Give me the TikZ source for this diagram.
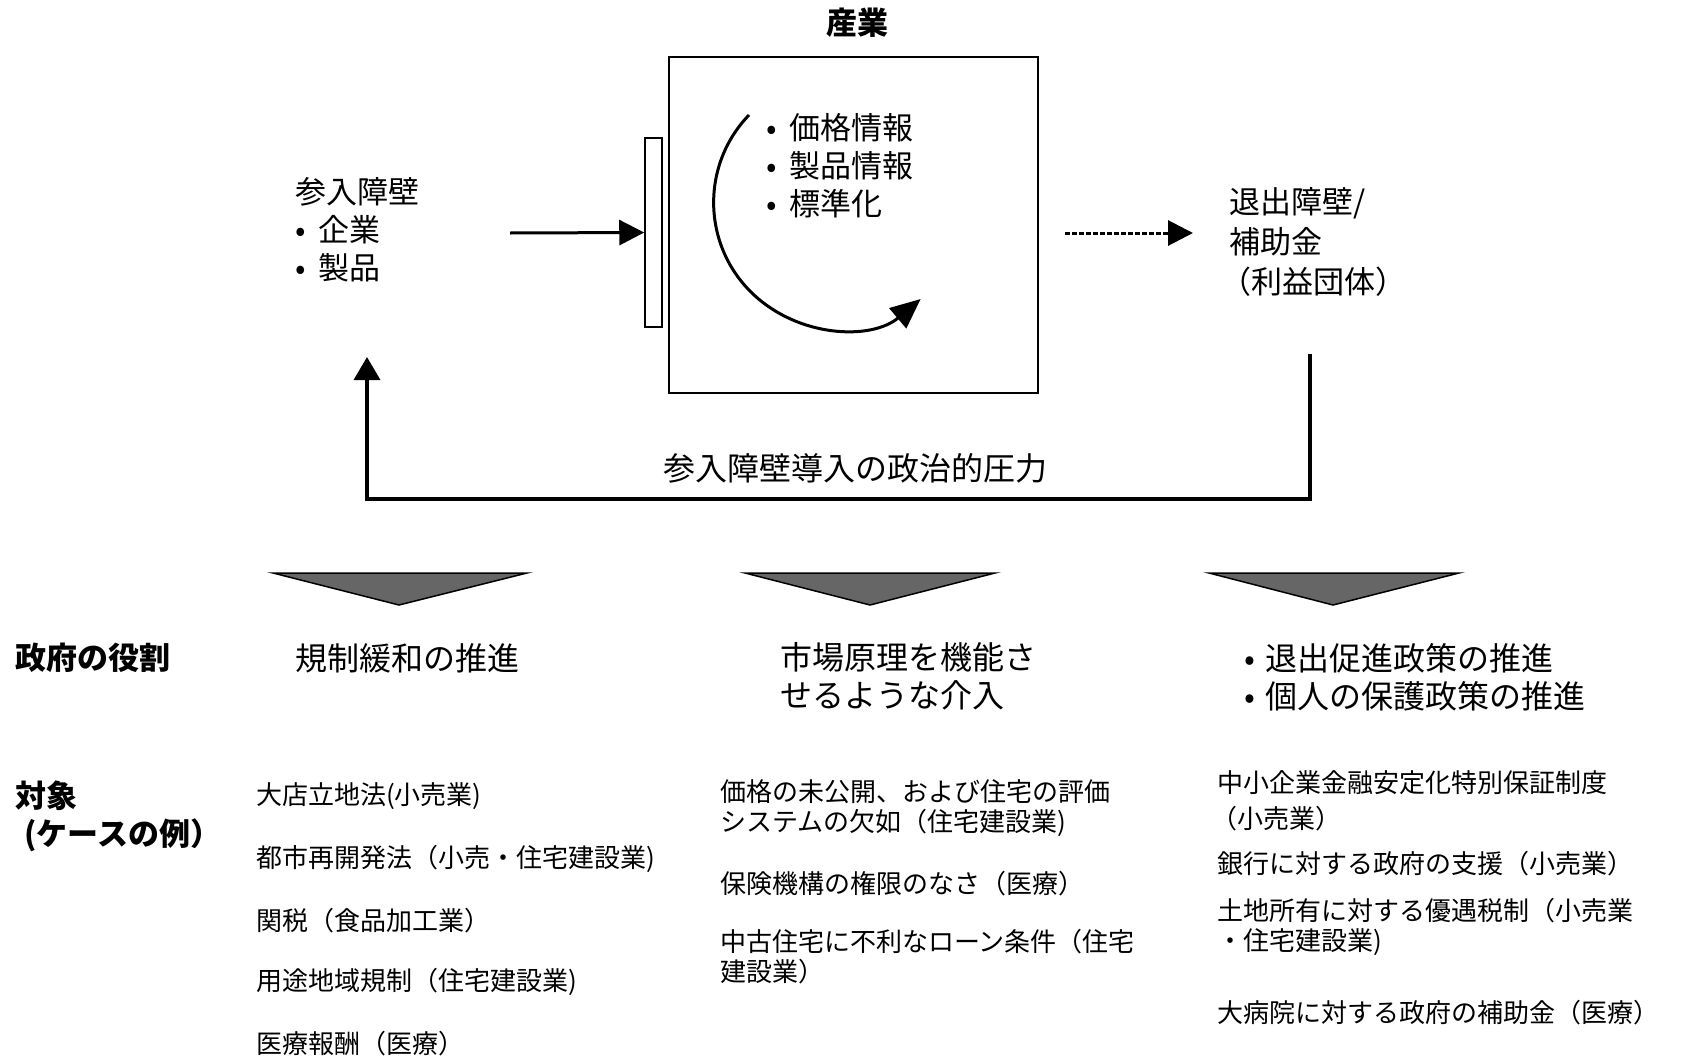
\documentclass[tikz,border=0pt]{standalone}
\usepackage{fontspec}
\setmainfont{Noto Sans CJK JP}
\usetikzlibrary{arrows.meta}

\newcommand{\dotitem}[1]{\makebox[#1][l]{•}}

\tikzset{
  body/.style={anchor=west, inner sep=0pt, align=left, font=\fontsize{31}{38}\selectfont},
  head/.style={body, font=\fontsize{31}{38}\selectfont\bfseries},
  role/.style={body, font=\fontsize{32}{38}\selectfont},
  case/.style={body, font=\fontsize{26}{30}\selectfont},
  flow/.style={line width=3pt, -{Triangle[length=25pt,width=25pt]}},
  dashflow/.style={flow, dash pattern=on 5pt off 2pt},
  downtri/.style={draw, line width=1.5pt, fill=black!60},
}

\begin{document}
\begin{tikzpicture}[x=1pt,y=-1pt]
\useasboundingbox (0,0) rectangle (1681,1060);
\fill[white] (0,0) rectangle (1681,1060);

% industry box
\node[draw, line width=2pt, minimum width=369pt, minimum height=336pt] (industry) at (853.5,225) {};
\node[head, anchor=center] (industrytitle) at (857,23) {産業};
\node[draw, line width=1.5pt, minimum width=17pt, minimum height=189pt] (barrier) at (653.5,232.5) {};
\node[body] (info) at (766,166) {\dotitem{23pt}価格情報\\\dotitem{23pt}製品情報\\\dotitem{23pt}標準化};
\draw[line width=3pt, -{Triangle[length=30pt,width=26pt]}] (749,115) arc[start angle=224, end angle=50, radius=126];

\node[body] (entrytxt) at (295,230) {参入障壁\\\dotitem{23pt}企業\\\dotitem{23pt}製品};
\node[body, font=\fontsize{31}{40}\selectfont] (exittxt) at (1229,242) {退出障壁/\\補助金\\\hspace*{-9pt}（利益団体）};

\coordinate (entry) at (510,233);
\draw[flow] (entry) -- (barrier.west);
\coordinate (exitstart) at (1065,233);
\coordinate (exitend) at (1193,233);
\draw[dashflow] (exitstart) -- (exitend);

% feedback loop
\coordinate (fbtop) at (1310,354);
\coordinate (fbcorner) at (1310,499);
\coordinate (fbend) at (367,357);
\draw[flow, line width=3.5pt, -{Triangle[length=23pt,width=26pt]}] (fbtop) -- (fbcorner) -| (fbend);
\node[role, anchor=center] (pressure) at (855,468) {参入障壁導入の政治的圧力};

\draw[downtri] (273,573) -- (527,573) -- (399,605) -- cycle;
\draw[downtri] (745,573) -- (995,573) -- (870,605) -- cycle;
\draw[downtri] (1209,573) -- (1459,573) -- (1333,605) -- cycle;

% role of government
\node[head] (roletitle) at (15,658) {政府の役割};
\node[role] (dereg) at (295,658) {規制緩和の推進};
\node[role] (market) at (780,676) {市場原理を機能さ\\せるような介入};
\node[role] (exitpol) at (1244,677) {\dotitem{21pt}退出促進政策の推進\\\dotitem{21pt}個人の保護政策の推進};

% cases
\node[head] (casetitle) at (15,816) {対象\\\hspace*{9pt}(ケースの例）};

\node[case] (lefta) at (256,796) {大店立地法(小売業)};
\node[case] (leftb) at (256,859) {都市再開発法（小売・住宅建設業)};
\node[case] (leftc) at (256,921) {関税（食品加工業）};
\node[case] (leftd) at (256,982) {用途地域規制（住宅建設業)};
\node[case] (lefte) at (256,1044) {医療報酬（医療）};

\node[case] (mida) at (720,808) {価格の未公開、および住宅の評価\\システムの欠如（住宅建設業)};
\node[case] (midb) at (720,884) {保険機構の権限のなさ（医療）};
\node[case] (midc) at (720,957) {中古住宅に不利なローン条件（住宅\\建設業）};

\node[case] (righta) at (1217,801) {中小企業金融安定化特別保証制度\\[6pt]\hspace*{-6pt}（小売業）};
\node[case] (rightb) at (1217,864) {銀行に対する政府の支援（小売業）};
\node[case] (rightc) at (1217,927) {土地所有に対する優遇税制（小売業\\・住宅建設業)};
\node[case] (rightd) at (1217,1013) {大病院に対する政府の補助金（医療）};

\end{tikzpicture}
\end{document}
